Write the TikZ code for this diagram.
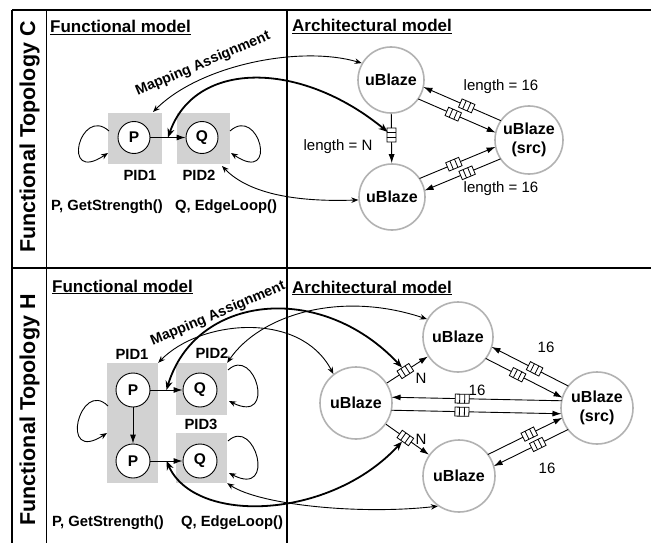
\documentclass[tikz,border=0pt]{standalone}
\usepackage{fontspec}
\setmainfont{Liberation Sans}
\usetikzlibrary{calc,arrows.meta}
\tikzset{
  frame/.style={line width=1.4pt},
  title/.style={anchor=base west, inner sep=0pt, font=\bfseries\fontsize{17}{19}\selectfont},
  side/.style={rotate=90, inner sep=0pt, font=\bfseries\fontsize{21.5}{24}\selectfont},
  maplab/.style={rotate=23, inner sep=0pt, font=\bfseries\fontsize{14.3}{16}\selectfont},
  fbox/.style={fill=gray!35, draw=none, inner sep=0pt},
  fproc/.style={circle, draw, fill=white, line width=0.9pt, minimum size=32pt, inner sep=0pt, font=\bfseries\fontsize{15.5}{17}\selectfont},
  ublaze/.style={circle, draw=gray!60, fill=white, line width=1.6pt, minimum size=66pt, inner sep=0pt, align=center, font=\bfseries\fontsize{16}{19.5}\selectfont},
  lab/.style={inner sep=0pt, font=\bfseries\fontsize{14.8}{16}\selectfont},
  lenlab/.style={inner sep=0pt, font=\fontsize{15}{16}\selectfont},
  aedge/.style={line width=0.9pt, -{Latex[length=9pt,width=6pt]}},
  tcurve/.style={line width=0.9pt, {Stealth[length=7pt,width=5.5pt]}-{Stealth[length=7pt,width=5.5pt]}},
  kcurve/.style={line width=1.8pt, {Stealth[length=9pt,width=7pt]}-{Stealth[length=9pt,width=7pt]}},
  selfloop/.style={line width=0.9pt, -{Stealth[length=7pt,width=5.5pt]}},
  fifo/.pic={
    \draw[-, shorten <=0pt, shorten >=0pt, line width=0.8pt, fill=white] (-7,-4.5) rectangle (7,4.5);
    \draw[-, shorten <=0pt, shorten >=0pt, line width=0.8pt] (-2.5,-4.5) -- (-2.5,4.5) (2.5,-4.5) -- (2.5,4.5);
  }
}
\begin{document}
\begin{tikzpicture}[x=1pt,y=-1pt]
\useasboundingbox (0,0) rectangle (651,543);
\fill[white] (0,0) rectangle (651,543);

% frame
\draw[frame] (12,10) -- (651,10);
\draw[frame] (12,268) -- (651,268);
\draw[frame] (12,10) -- (12,543);
\draw[frame] (46.5,10) -- (46.5,543);
\draw[frame] (287,10) -- (287,543);

% side labels
\node[side] (sideC) at (29.5,137) {Functional Topology C};
\node[side] (sideH) at (29.5,410) {Functional Topology H};

% titles
\node[title] (tf1) at (50,33) {\underline{Functional model}};
\node[title] (ta1) at (292,32) {\underline{Architectural model}};
\node[title] (tf2) at (52,292) {\underline{Functional model}};
\node[title] (ta2) at (292,293) {\underline{Architectural model}};

% ============ TOP PANEL ============
\node[fbox, minimum width=54pt, minimum height=51pt] (bP) at (135,138.5) {};
\node[fbox, minimum width=53pt, minimum height=51pt] (bQ) at (203.5,138.5) {};
\node[fproc] (P) at (134,137.5) {P};
\node[fproc] (Q) at (202,137.5) {Q};
\node[lab] (pid1) at (140,175) {PID1};
\node[lab] (pid2) at (199,175) {PID2};
\node[lab] (fp1) at (107,207) {P, GetStrength()};
\node[lab] (fq1) at (226,207) {Q, EdgeLoop()};

\draw[aedge] (P) -- coordinate[pos=.5] (pq) (Q);
\draw[selfloop] (109,131) .. controls (80,105) and (60,185) .. (108,153);
\draw[selfloop] (230,131) .. controls (259,105) and (279,185) .. (231,153);

\node[ublaze] (U1) at (391,80) {uBlaze};
\node[ublaze] (U2) at (392,197) {uBlaze};
\node[ublaze, minimum size=68pt] (S) at (529,140) {uBlaze\\(src)};

\draw[aedge] (U1) -- pic[pos=.43, sloped]{fifo} coordinate[pos=.43] (f1) (U2);
\draw[aedge, shorten <=33.5pt, shorten >=32.5pt] ($(S)!6.5pt!-90:(U1)$) -- pic[pos=.47, sloped]{fifo} ($(U1)!6.5pt!90:(S)$);
\draw[aedge, shorten <=32.5pt, shorten >=33.5pt] ($(U1)!6.5pt!-90:(S)$) -- pic[pos=.47, sloped]{fifo} ($(S)!6.5pt!90:(U1)$);
\draw[aedge, shorten <=32.5pt, shorten >=33.5pt] ($(U2)!6.5pt!90:(S)$) -- pic[pos=.47, sloped]{fifo} ($(S)!6.5pt!-90:(U2)$);
\draw[aedge, shorten <=33.5pt, shorten >=32.5pt] ($(S)!6.5pt!90:(U2)$) -- pic[pos=.47, sloped]{fifo} ($(U2)!6.5pt!-90:(S)$);

\node[lenlab] (l16a) at (501,87) {length = 16};
\node[lenlab] (lN) at (338,147) {length = N};
\node[lenlab] (l16b) at (501,189) {length = 16};

\coordinate (t1s) at (153,112);
\coordinate (t2s) at (222,166);
\draw[tcurve] (t1s) .. controls (200,65) and (300,45) .. (U1.150);
\draw[tcurve] (t2s) .. controls (250,195) and (300,202) .. (U2.185);
\draw[kcurve, shorten >=5pt] (pq) .. controls (195,60) and (300,60) .. (f1);

\node[maplab] (map1) at (203,64) {Mapping Assignment};

% ============ BOTTOM PANEL ============
\node[fbox, minimum width=51pt, minimum height=120pt] (bP1) at (132.5,423) {};
\node[fbox, minimum width=51pt, minimum height=52pt] (bQ1) at (201.5,389) {};
\node[fbox, minimum width=51pt, minimum height=50pt] (bQ2) at (201.5,458) {};
\node[fproc, minimum size=34pt] (P1) at (133,390) {P};
\node[fproc, minimum size=34pt] (P2) at (133,461) {P};
\node[fproc, minimum size=34pt] (Q1) at (200,390) {Q};
\node[fproc, minimum size=34pt] (Q2) at (200,461) {Q};
\node[lab] (pidb1) at (132,354) {PID1};
\node[lab] (pidb2) at (212,353) {PID2};
\node[lab] (pidb3) at (201,424) {PID3};
\node[lab] (fp2) at (108,523) {P, GetStrength()};
\node[lab] (fq2) at (232,523) {Q, EdgeLoop()};

\draw[aedge] (P1) -- coordinate[pos=.5] (pq1) (Q1);
\draw[aedge] (P2) -- coordinate[pos=.5] (pq2) (Q2);
\draw[aedge] (P1) -- (P2);
\draw[selfloop] (108,406) .. controls (80,378) and (58,465) .. (107,433);
\draw[selfloop] (228,370) .. controls (255,345) and (277,425) .. (229,401);
\draw[selfloop] (228,441) .. controls (255,416) and (277,498) .. (229,473);

\node[ublaze, minimum size=70pt] (UT) at (458,337) {uBlaze};
\node[ublaze, minimum size=72pt] (UL) at (356,403) {uBlaze};
\node[ublaze, minimum size=72pt] (UB) at (459,476) {uBlaze};
\node[ublaze, minimum size=72pt] (S2) at (597,408) {uBlaze\\(src)};

\draw[aedge] (UL) -- pic[pos=.45, sloped]{fifo} coordinate[pos=.45] (fA) (UT);
\draw[aedge] (UL) -- pic[pos=.45, sloped]{fifo} coordinate[pos=.45] (fB) (UB);
\draw[aedge, shorten <=35.4pt, shorten >=34.4pt] ($(S2)!6.5pt!-90:(UT)$) -- pic[pos=.47, sloped]{fifo} ($(UT)!6.5pt!90:(S2)$);
\draw[aedge, shorten <=34.4pt, shorten >=35.4pt] ($(UT)!6.5pt!-90:(S2)$) -- pic[pos=.45, sloped]{fifo} ($(S2)!6.5pt!90:(UT)$);
\draw[aedge, shorten <=35.4pt, shorten >=35.4pt] ($(S2)!6.5pt!-90:(UL)$) -- pic[pos=.56, sloped]{fifo} ($(UL)!6.5pt!90:(S2)$);
\draw[aedge, shorten <=35.4pt, shorten >=35.4pt] ($(UL)!6.5pt!-90:(S2)$) -- pic[pos=.44, sloped]{fifo} ($(S2)!6.5pt!90:(UL)$);
\draw[aedge, shorten <=35.4pt, shorten >=35.4pt] ($(UB)!6.5pt!90:(S2)$) -- pic[pos=.53, sloped]{fifo} ($(S2)!6.5pt!-90:(UB)$);
\draw[aedge, shorten <=35.4pt, shorten >=35.4pt] ($(S2)!6.5pt!90:(UB)$) -- pic[pos=.45, sloped]{fifo} ($(UB)!6.5pt!-90:(S2)$);

\node[lenlab] (n16a) at (546,347) {16};
\node[lenlab] (n16b) at (477,390) {16};
\node[lenlab] (n16c) at (547,468) {16};
\node[lenlab] (nNa) at (421,378) {N};
\node[lenlab] (nNb) at (421,439) {N};

\draw[tcurve] (bP1.north east) .. controls (200,320) and (300,310) .. (UL.128);
\draw[tcurve] (bQ1.north east) .. controls (260,315) and (340,290) .. (UT.150);
\draw[tcurve] (bQ2.south east) .. controls (260,505) and (360,515) .. (UB.235);
\draw[kcurve, shorten >=5pt] (pq1) .. controls (195,295) and (320,280) .. (fA);
\draw[kcurve, shorten >=5pt] (pq2) .. controls (195,525) and (330,520) .. (fB);

\node[maplab] (map2) at (218,314) {Mapping Assignment};
\end{tikzpicture}
\end{document}
